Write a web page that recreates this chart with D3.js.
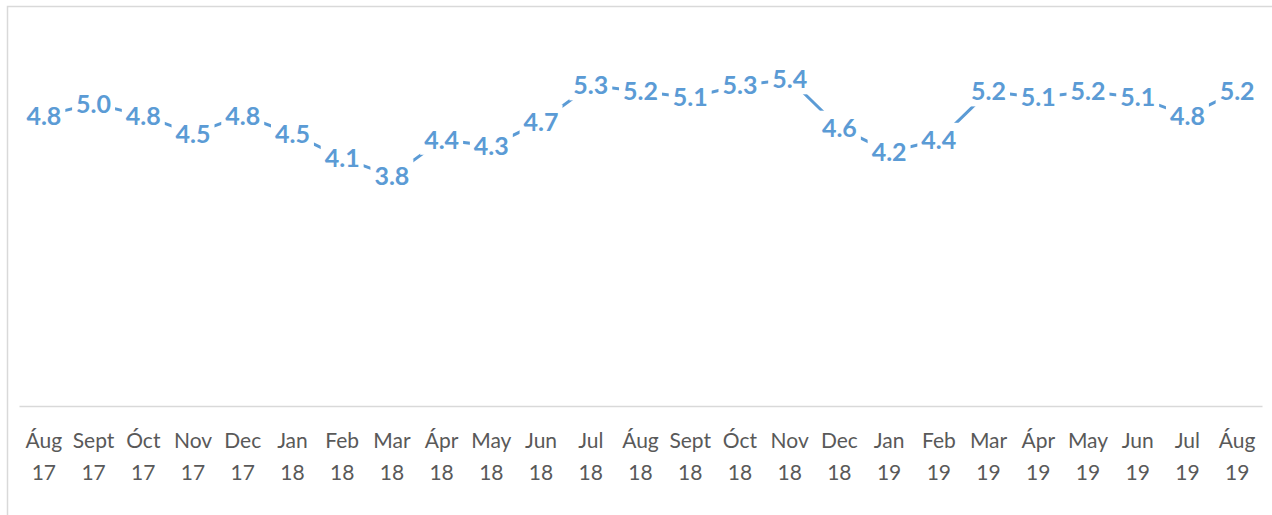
<!DOCTYPE html>
<html>
<head>
<meta charset="utf-8">
<script src="https://cdn.jsdelivr.net/npm/d3@7"></script>
<style>
  body { margin: 0; background: #fff; }
  svg { display: block; }
</style>
</head>
<body>
<div id="chart"></div>
<script>
// --------------------------------------
//  Data
// --------------------------------------

const months = ["Áug", "Sept", "Óct", "Nov", "Dec", "Jan", "Feb", "Mar", "Ápr", "May", "Jun", "Jul",
                "Áug", "Sept", "Óct", "Nov", "Dec", "Jan", "Feb", "Mar", "Ápr", "May", "Jun", "Jul", "Áug"];
const years = ["17", "17", "17", "17", "17", "18", "18", "18", "18", "18", "18", "18",
               "18", "18", "18", "18", "18", "19", "19", "19", "19", "19", "19", "19", "19"];
const values = [4.8, 5.0, 4.8, 4.5, 4.8, 4.5, 4.1, 3.8, 4.4, 4.3, 4.7, 5.3,
                5.2, 5.1, 5.3, 5.4, 4.6, 4.2, 4.4, 5.2, 5.1, 5.2, 5.1, 4.8, 5.2];

const data = months.map((m, i) => ({key: i, month: m, year: years[i], value: values[i]}));

// --------------------------------------
//  Canvas
// --------------------------------------

const width = 1272;
const height = 515;
const plot = {left: 19, right: 1262, top: 43, bottom: 406};

const svg = d3.select("#chart")
  .append("svg")
    .attr("width", width)
    .attr("height", height);

svg.append("rect")
    .attr("x", 7.5)
    .attr("y", 6.5)
    .attr("width", 1270)
    .attr("height", 520)
    .attr("fill", "none")
    .attr("stroke", "#d9d9d9")
    .attr("stroke-width", 1.5);

// --------------------------------------
//  Scales
// --------------------------------------

const x = d3.scaleBand()
    .domain(data.map(d => d.key))
    .range([plot.left, plot.right]);

const y = d3.scaleLinear()
    .domain([0, 6])
    .range([plot.bottom, plot.top]);

const cx = d => x(d.key) + x.bandwidth() / 2;

// --------------------------------------
//  Axis
// --------------------------------------

const xAxis = svg.append("g")
    .attr("class", "x-axis")
    .attr("transform", `translate(0, ${plot.bottom})`)
    .call(d3.axisBottom(x).tickSize(0).tickFormat(""));

xAxis.select(".domain")
    .attr("stroke", "#d9d9d9")
    .attr("stroke-width", 1.5);

const ticks = xAxis.selectAll(".tick text")
    .attr("fill", "#595959")
    .attr("font-family", "Lato, 'Open Sans', sans-serif")
    .attr("font-size", 21)
    .attr("y", 0)
    .attr("dy", null);

ticks.each(function(k) {
  const t = d3.select(this);
  t.append("tspan").attr("x", 0).attr("y", 42).text(data[k].month);
  t.append("tspan").attr("x", 0).attr("y", 74).text(data[k].year);
});

// --------------------------------------
//  Line and labels
// --------------------------------------

const line = d3.line()
    .x(cx)
    .y(d => y(d.value));

svg.append("path")
    .datum(data)
    .attr("fill", "none")
    .attr("stroke", "#5b9bd5")
    .attr("stroke-width", 3)
    .attr("stroke-linecap", "round")
    .attr("d", line);

const labels = svg.selectAll(".lbl")
    .data(data)
    .join("g")
    .attr("class", "lbl")
    .attr("transform", d => `translate(${cx(d)}, ${y(d.value)})`);

const bg = labels.append("rect").attr("fill", "#fff");

const txt = labels.append("text")
    .attr("text-anchor", "middle")
    .attr("dy", "0.36em")
    .attr("fill", "#5b9bd5")
    .attr("font-family", "Lato, 'Open Sans', sans-serif")
    .attr("font-weight", "bold")
    .attr("font-size", 25)
    .text(d => d3.format(".1f")(d.value));

txt.each(function() {
  const b = this.getBBox();
  d3.select(this.previousSibling)
    .attr("x", b.x - 4)
    .attr("y", b.y - 1)
    .attr("width", b.width + 8)
    .attr("height", b.height + 2);
});
</script>
</body>
</html>
